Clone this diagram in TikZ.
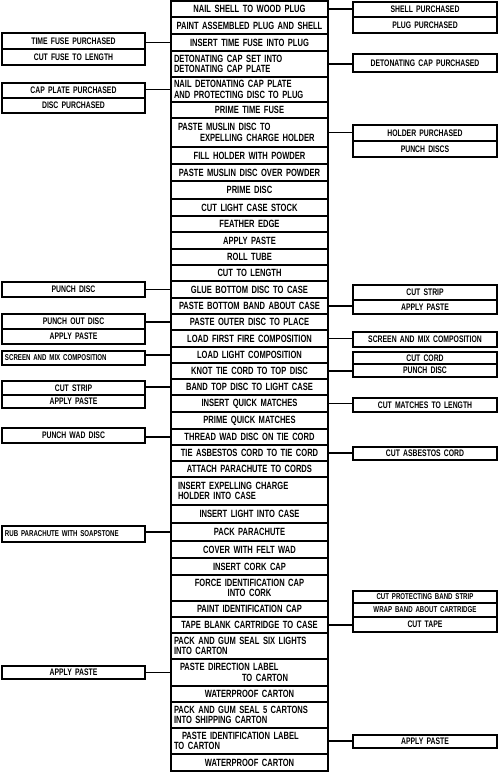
\documentclass[tikz,border=0pt]{standalone}
\usepackage{fontspec}
\setmainfont{Liberation Sans}[FakeStretch=0.72]

\begin{document}
\begin{tikzpicture}[x=1pt, y=-1pt]
    % Define styles
    \tikzstyle{stepbox} = [rectangle, draw, line width=1.3pt, text width=151pt, inner xsep=3pt, inner ysep=1pt, align=center, outer sep=0pt, font=\bfseries\fontsize{10.5}{10.5}\selectfont]
    \tikzstyle{leftbox} = [rectangle, draw, line width=1.3pt, text width=137pt, inner xsep=3pt, inner ysep=1pt, align=center, outer sep=0pt, font=\bfseries\fontsize{9.5}{9.5}\selectfont]
    \tikzstyle{rightbox} = [leftbox, text width=138pt]
    \tikzstyle{link} = [line width=1.1pt]

    \useasboundingbox (0,0) rectangle (500,772);

    % Main column of operations
    \node [stepbox, minimum height=16pt] (nail) at (249.5, 9) {NAIL SHELL TO WOOD PLUG};
    \node [stepbox, minimum height=17pt] (paint) at (249.5, 25.5) {PAINT ASSEMBLED PLUG AND SHELL};
    \node [stepbox, minimum height=17pt] (insfuse) at (249.5, 42.5) {INSERT TIME FUSE INTO PLUG};
    \node [stepbox, minimum height=26pt, align=left] (detcap) at (249.5, 64) {DETONATING CAP SET INTO\\DETONATING CAP PLATE};
    \node [stepbox, minimum height=25pt, align=left] (naildet) at (249.5, 89.5) {NAIL DETONATING CAP PLATE\\AND PROTECTING DISC TO PLUG};
    \node [stepbox, minimum height=16pt] (primefuse) at (249.5, 110) {PRIME TIME FUSE};
    \node [stepbox, minimum height=29pt, align=left] (muslin) at (249.5, 132.5) {\hspace*{4pt}PASTE MUSLIN DISC TO\\\hspace*{26pt}EXPELLING CHARGE HOLDER};
    \node [stepbox, minimum height=17pt] (fill) at (249.5, 155.5) {FILL HOLDER WITH POWDER};
    \node [stepbox, minimum height=17pt] (overpowder) at (249.5, 172.5) {PASTE MUSLIN DISC OVER POWDER};
    \node [stepbox, minimum height=18pt] (primedisc) at (249.5, 190) {PRIME DISC};
    \node [stepbox, minimum height=17pt] (cutstock) at (249.5, 207.5) {CUT LIGHT CASE STOCK};
    \node [stepbox, minimum height=16pt] (feather) at (249.5, 224) {FEATHER EDGE};
    \node [stepbox, minimum height=17pt] (paste) at (249.5, 240.5) {APPLY PASTE};
    \node [stepbox, minimum height=16pt] (roll) at (249.5, 257) {ROLL TUBE};
    \node [stepbox, minimum height=16pt] (cutlen) at (249.5, 273) {CUT TO LENGTH};
    \node [stepbox, minimum height=17pt] (glue) at (249.5, 289.5) {GLUE BOTTOM DISC TO CASE};
    \node [stepbox, minimum height=16pt] (band) at (249.5, 306) {PASTE BOTTOM BAND ABOUT CASE};
    \node [stepbox, minimum height=16pt] (outer) at (249.5, 322) {PASTE OUTER DISC TO PLACE};
    \node [stepbox, minimum height=17pt] (firstfire) at (249.5, 338.5) {LOAD FIRST FIRE COMPOSITION};
    \node [stepbox, minimum height=16pt] (lightcomp) at (249.5, 355) {LOAD LIGHT COMPOSITION};
    \node [stepbox, minimum height=16pt] (knot) at (249.5, 371) {KNOT TIE CORD TO TOP DISC};
    \node [stepbox, minimum height=16pt] (bandtop) at (249.5, 387) {BAND TOP DISC TO LIGHT CASE};
    \node [stepbox, minimum height=17pt] (insmatch) at (249.5, 403.5) {INSERT QUICK MATCHES};
    \node [stepbox, minimum height=17pt] (primematch) at (249.5, 420.5) {PRIME QUICK MATCHES};
    \node [stepbox, minimum height=16pt] (thread) at (249.5, 437) {THREAD WAD DISC ON TIE CORD};
    \node [stepbox, minimum height=16pt] (asbestos) at (249.5, 453) {TIE ASBESTOS CORD TO TIE CORD};
    \node [stepbox, minimum height=16pt] (attach) at (249.5, 469) {ATTACH PARACHUTE TO CORDS};
    \node [stepbox, minimum height=28pt, align=left] (expel) at (249.5, 491) {\hspace*{4pt}INSERT EXPELLING CHARGE\\\hspace*{4pt}HOLDER INTO CASE};
    \node [stepbox, minimum height=18pt] (inslight) at (249.5, 514) {INSERT LIGHT INTO CASE};
    \node [stepbox, minimum height=18pt] (pack) at (249.5, 532) {PACK PARACHUTE};
    \node [stepbox, minimum height=17pt] (cover) at (249.5, 549.5) {COVER WITH FELT WAD};
    \node [stepbox, minimum height=17pt] (cork) at (249.5, 566.5) {INSERT CORK CAP};
    \node [stepbox, minimum height=26pt] (force) at (249.5, 588) {FORCE IDENTIFICATION CAP\\INTO CORK};
    \node [stepbox, minimum height=16pt] (paintcap) at (249.5, 609) {PAINT IDENTIFICATION CAP};
    \node [stepbox, minimum height=16pt] (tape) at (249.5, 625) {TAPE BLANK CARTRIDGE TO CASE};
    \node [stepbox, minimum height=26pt, align=left] (sixlights) at (249.5, 646) {PACK AND GUM SEAL SIX LIGHTS\\INTO CARTON};
    \node [stepbox, minimum height=27pt, align=left] (direction) at (249.5, 672.5) {\hspace*{6pt}PASTE DIRECTION LABEL\\\hspace*{68pt}TO CARTON};
    \node [stepbox, minimum height=16pt] (waterproof) at (249.5, 694) {WATERPROOF CARTON};
    \node [stepbox, minimum height=26pt, align=left] (shipping) at (249.5, 715) {PACK AND GUM SEAL 5 CARTONS\\INTO SHIPPING CARTON};
    \node [stepbox, minimum height=26pt, align=left] (idlabel) at (249.5, 741) {\hspace*{8pt}PASTE IDENTIFICATION LABEL\\TO CARTON};
    \node [stepbox, minimum height=17pt] (waterprooflast) at (249.5, 762.5) {WATERPROOF CARTON};

    % Left side operations
    \node [leftbox, minimum height=16pt] (timefuse) at (73.5, 41) {TIME FUSE PURCHASED};
    \node [leftbox, minimum height=16pt] (cutfuse) at (73.5, 57) {CUT FUSE TO LENGTH};
    \node [leftbox, minimum height=15pt] (capplate) at (73.5, 90.5) {CAP PLATE PURCHASED};
    \node [leftbox, minimum height=15pt] (discpurch) at (73.5, 105.5) {DISC PURCHASED};
    \node [leftbox, minimum height=15pt] (punchdisc) at (73.5, 289.5) {PUNCH DISC};
    \node [leftbox, minimum height=15pt] (punchout) at (73.5, 321.5) {PUNCH OUT DISC};
    \node [leftbox, minimum height=15pt] (leftpaste) at (73.5, 336.5) {APPLY PASTE};
    \node [leftbox, minimum height=14pt, align=left, font=\bfseries\fontsize{8.5}{8.5}\selectfont] (leftscreen) at (73.5, 358) {SCREEN AND MIX COMPOSITION};
    \node [leftbox, minimum height=14pt] (leftstrip) at (73.5, 388) {CUT STRIP};
    \node [leftbox, minimum height=13pt] (leftpastetwo) at (73.5, 401.5) {APPLY PASTE};
    \node [leftbox, minimum height=15pt] (punchwad) at (73.5, 435.5) {PUNCH WAD DISC};
    \node [leftbox, minimum height=16pt, align=left, font=\bfseries\fontsize{8.5}{8.5}\selectfont] (rub) at (73.5, 534) {RUB PARACHUTE WITH SOAPSTONE};
    \node [leftbox, minimum height=13pt] (leftpastethree) at (73.5, 672.5) {APPLY PASTE};

    % Right side operations
    \node [rightbox, minimum height=15pt] (shell) at (425, 9.5) {SHELL PURCHASED};
    \node [rightbox, minimum height=16pt] (plug) at (425, 25) {PLUG PURCHASED};
    \node [rightbox, minimum height=18pt] (detpurch) at (425, 63) {DETONATING CAP PURCHASED};
    \node [rightbox, minimum height=16pt] (holder) at (425, 133) {HOLDER PURCHASED};
    \node [rightbox, minimum height=16pt] (punchdiscs) at (425, 149) {PUNCH DISCS};
    \node [rightbox, minimum height=15pt] (rightstrip) at (425, 292.5) {CUT STRIP};
    \node [rightbox, minimum height=14pt] (rightpaste) at (425, 307) {APPLY PASTE};
    \node [rightbox, minimum height=15pt] (rightscreen) at (425, 339.5) {SCREEN AND MIX COMPOSITION};
    \node [rightbox, minimum height=12pt] (cutcord) at (425, 358) {CUT CORD};
    \node [rightbox, minimum height=13pt] (rightpunch) at (425, 370.5) {PUNCH DISC};
    \node [rightbox, minimum height=14pt] (cutmatch) at (425, 405) {CUT MATCHES TO LENGTH};
    \node [rightbox, minimum height=13pt] (cutasb) at (425, 453.5) {CUT ASBESTOS CORD};
    \node [rightbox, minimum height=12pt, font=\bfseries\fontsize{8.5}{8.5}\selectfont] (cutband) at (425, 597) {CUT PROTECTING BAND STRIP};
    \node [rightbox, minimum height=14pt, font=\bfseries\fontsize{8.5}{8.5}\selectfont] (wrap) at (425, 610) {WRAP BAND ABOUT CARTRIDGE};
    \node [rightbox, minimum height=15pt] (cuttape) at (425, 624.5) {CUT TAPE};
    \node [rightbox, minimum height=13pt] (rightpastetwo) at (425, 741.5) {APPLY PASTE};

    % Connecting lines
    \draw [link] (nail.east) -- (nail.east -| shell.west);
    \draw [link] (insfuse.west) -- (insfuse.west -| timefuse.east);
    \draw [link] (detcap.east) -- (detcap.east -| detpurch.west);
    \draw [link] (naildet.west) -- (naildet.west -| capplate.east);
    \draw [link] (muslin.east) -- (muslin.east -| holder.west);
    \draw [link] (glue.west) -- (glue.west -| punchdisc.east);
    \draw [link] (band.east) -- (band.east -| rightpaste.west);
    \draw [link] (outer.west) -- (outer.west -| punchout.east);
    \draw [link] (firstfire.east) -- (firstfire.east -| rightscreen.west);
    \draw [link] (lightcomp.west) -- (lightcomp.west -| leftscreen.east);
    \draw [link] (knot.east) -- (knot.east -| rightpunch.west);
    \draw [link] (bandtop.west) -- (bandtop.west -| leftstrip.east);
    \draw [link] (insmatch.east) -- (insmatch.east -| cutmatch.west);
    \draw [link] (thread.west) -- (thread.west -| punchwad.east);
    \draw [link] (asbestos.east) -- (asbestos.east -| cutasb.west);
    \draw [link] (pack.west) -- (pack.west -| rub.east);
    \draw [link] (tape.east) -- (tape.east -| cuttape.west);
    \draw [link] (direction.west) -- (direction.west -| leftpastethree.east);
    \draw [link] (idlabel.east) -- (idlabel.east -| rightpastetwo.west);
\end{tikzpicture}
\end{document}
